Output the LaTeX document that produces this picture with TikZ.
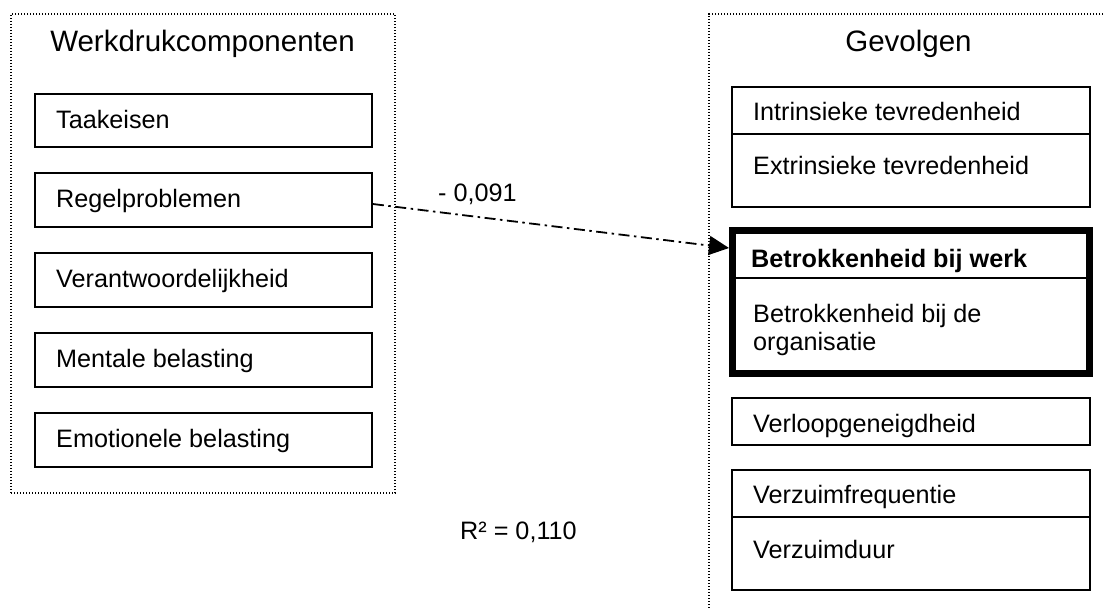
\documentclass[tikz,border=0pt]{standalone}
\usepackage{fontspec}
\setmainfont{Liberation Sans}
\usetikzlibrary{arrows.meta}

\begin{document}
\begin{tikzpicture}[x=1pt, y=-1pt,
  frame/.style={draw, line width=1.4pt, dash pattern=on 1.4pt off 1.6pt, inner sep=0pt, outer sep=0pt},
  itembox/.style={draw, line width=1.8pt, inner sep=0pt},
  heavybox/.style={draw, line width=7pt, inner sep=0pt},
  divider/.style={line width=1.8pt},
  heading/.style={inner sep=0pt, anchor=base, font=\fontsize{29.5}{34}\selectfont},
  label/.style={inner sep=0pt, anchor=base west, font=\fontsize{25.2}{29}\selectfont},
  effect/.style={line width=1.8pt, dash pattern=on 11pt off 4.5pt on 2.5pt off 4.5pt,
                 -{Triangle[length=20pt, width=19pt]}}
]
\useasboundingbox (0,0) rectangle (1105,610);
\clip (0,0) rectangle (1105,610);

% dotted group frames
\node[frame, minimum width=384pt, minimum height=479pt] (leftframe) at (203,253.5) {};
\node[frame, minimum width=403pt, minimum height=611pt] (rightframe) at (910.5,319.5) {};

% group headings
\node[heading] (tleft) at (202.5,52) {Werkdrukcomponenten};
\node[heading] (tright) at (908.5,52) {Gevolgen};

% workload components
\node[itembox, minimum width=337pt, minimum height=53pt] (taak) at (203.5,120.5) {};
\node[itembox, minimum width=337pt, minimum height=54pt] (regel) at (203.5,200) {};
\node[itembox, minimum width=337pt, minimum height=54pt] (verant) at (203.5,280) {};
\node[itembox, minimum width=337pt, minimum height=54pt] (mentaal) at (203.5,360) {};
\node[itembox, minimum width=337pt, minimum height=54pt] (emo) at (203.5,440) {};

\node[label] (ltaak) at (56,128) {Taakeisen};
\node[label] (lregel) at (56,207.5) {Regelproblemen};
\node[label] (lverant) at (56,287.5) {Verantwoordelijkheid};
\node[label] (lmentaal) at (56,367.5) {Mentale belasting};
\node[label] (lemo) at (56,447.5) {Emotionele belasting};

% outcomes
\node[itembox, minimum width=358pt, minimum height=120pt] (tevr) at (911,147) {};
\draw[divider] (tevr.west |- 0,134) -- (tevr.east |- 0,134);
\node[label] (lintr) at (753,120) {Intrinsieke tevredenheid};
\node[label] (lextr) at (753,174) {Extrinsieke tevredenheid};

\node[heavybox, minimum width=357pt, minimum height=143pt] (betr) at (911,302) {};
\draw[divider] (733,278) -- (1089,278);
\node[label, font=\fontsize{25.2}{29}\selectfont\bfseries] (lwerk) at (751,267) {Betrokkenheid bij werk};
\node[label] (lorg) at (753,322) {Betrokkenheid bij de};
\node[label] (lorgb) at (753,350) {organisatie};

\node[itembox, minimum width=358pt, minimum height=47pt] (verloop) at (911,421.5) {};
\node[label] (lverloop) at (753,432) {Verloopgeneigdheid};

\node[itembox, minimum width=358pt, minimum height=120pt] (verzuim) at (911,530) {};
\draw[divider] (verzuim.west |- 0,517) -- (verzuim.east |- 0,517);
\node[label] (lfreq) at (753,503) {Verzuimfrequentie};
\node[label] (lduur) at (753,558) {Verzuimduur};

% path coefficient
\draw[effect] ([yshift=-4pt]regel.east) -- ([yshift=-21pt]betr.north west);
\node[label] (coef) at (438,201) {- 0,091};

% explained variance
\node[label] (rsq) at (460,539) {R² = 0,110};
\end{tikzpicture}
\end{document}
